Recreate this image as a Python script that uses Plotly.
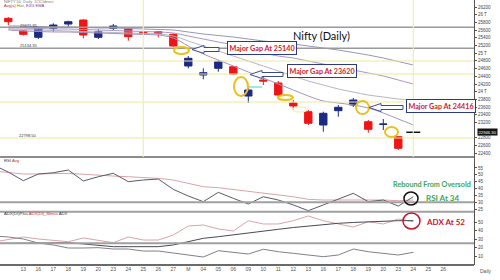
import plotly.graph_objects as go

# ---------------- data ----------------
dates_all = ["Feb 11", "Feb 12", "Feb 13", "Feb 16", "Feb 17", "Feb 18", "Feb 19", "Feb 20",
             "Feb 23", "Feb 24", "Feb 25", "Feb 26", "Feb 27", "Mar 02", "Mar 04", "Mar 05",
             "Mar 06", "Mar 09", "Mar 10", "Mar 11", "Mar 12", "Mar 13", "Mar 16", "Mar 17",
             "Mar 18", "Mar 19", "Mar 20", "Mar 23", "Mar 24", "Mar 25", "Mar 26"]
tick_dates = dates_all[2:]
tick_labels = ["13", "16", "17", "18", "19", "20", "23", "24", "25", "26", "27", "M", "04", "05",
               "06", "09", "10", "11", "12", "13", "16", "17", "18", "19", "20", "23", "24", "25", "26"]

candle_dates = dates_all[1:28]
open_ = [25906, 25577, 25413, 25647, 25758, 25862, 25413, 25647, 25629, 25543, 25558, 25491,
         24668, 24434, 24608, 24649, 23888, 24304, 24226, 23707, 23481, 23135, 23507, 23655,
         23221, 23150, 22831]
high = [25940, 25600, 25700, 25777, 25844, 25880, 25621, 25758, 25647, 25560, 25577, 25517,
        24927, 24608, 24823, 24668, 24122, 24382, 24278, 23784, 23525, 23481, 23655, 23836,
        23265, 23291, 22849]
low = [25732, 25460, 25369, 25558, 25688, 25387, 25369, 25603, 25325, 25480, 25413, 25169,
       24608, 24322, 24520, 24434, 23707, 24174, 23862, 23525, 23135, 22961, 23351, 23603,
       22935, 23005, 22486]
close = [25818, 25491, 25688, 25732, 25818, 25473, 25558, 25706, 25429, 25499, 25517, 25187,
         24868, 24494, 24779, 24460, 24044, 24278, 23914, 23629, 23179, 23439, 23595, 23784,
         23023, 23160, 22530]
last_date = ["Mar 24"]
last_price = [22946]

ma_dates = dates_all[1:29]
ema_a = [25706, 25706, 25694, 25681, 25681, 25668, 25655, 25655, 25642, 25629, 25616, 25603, 25551, 25499,
         25460, 25421, 25369, 25317, 25278, 25239, 25187, 25135, 25083, 25018, 24953, 24875, 24784, 24694]
ema_b = [25655, 25655, 25642, 25629, 25629, 25616, 25603, 25590, 25577, 25564, 25551, 25525, 25447, 25369,
         25291, 25213, 25109, 25005, 24927, 24875, 24797, 24719, 24642, 24564, 24486, 24408, 24304, 24200]
ema_c = [25629, 25616, 25603, 25590, 25577, 25564, 25551, 25538, 25525, 25512, 25499, 25447, 25317, 25187,
         25057, 24927, 24797, 24668, 24538, 24408, 24278, 24174, 24070, 23992, 23914, 23862, 23810, 23784]
ema_d = [25603, 25577, 25564, 25551, 25551, 25538, 25525, 25512, 25499, 25486, 25473, 25395, 25187, 24979,
         24823, 24668, 24512, 24356, 24200, 24044, 23888, 23758, 23707, 23655, 23577, 23447, 23291, 23135]

ind_dates = dates_all[0:29]
rsi = [57.2, 52.0, 45.7, 50.6, 51.5, 53.5, 45.5, 48.6, 51.1, 45.0, 46.2, 46.9, 39.4, 34.5, 30.4,
       37.2, 32.8, 28.7, 34.0, 31.6, 28.0, 23.8, 28.0, 32.1, 36.5, 30.4, 31.6, 27.2, 34.0]
rsi_avg = [52.8, 51.7, 50.6, 50.6, 51.1, 51.1, 50.4, 49.6, 49.1, 48.6, 48.2, 47.4, 46.2, 43.8, 41.3,
           40.6, 39.4, 37.7, 36.5, 35.3, 34.0, 32.1, 31.6, 31.6, 32.1, 31.6, 31.6, 31.1, 31.6]
di_plus = [33.8, 32.6, 30.2, 25.4, 23.1, 19.5, 19.5, 19.9, 18.3, 18.3, 15.9, 15.9, 13.6, 11.2, 8.8,
           16.3, 13.9, 12.4, 18.0, 15.1, 13.2, 11.2, 9.2, 11.2, 18.3, 15.1, 13.2, 11.2, 14.4]
di_minus = [26.6, 29.6, 32.6, 30.2, 28.2, 27.0, 31.4, 28.2, 25.8, 32.6, 29.0, 29.0, 34.9, 45.6, 46.8,
            42.1, 39.7, 51.9, 48.0, 48.0, 51.9, 57.5, 51.9, 48.0, 44.4, 50.7, 48.0, 53.9, 50.7]
adx = [24.9, 25.1, 24.9, 25.1, 25.4, 25.8, 24.3, 22.7, 21.1, 21.1, 21.1, 21.1, 23.1, 27.0, 31.0,
       32.9, 34.9, 37.7, 39.7, 41.7, 43.8, 45.6, 47.4, 48.8, 49.8, 50.7, 51.5, 51.9, 52.0]

price_ticks = [22400, 22600, 22800, 23200, 23400, 23600, 23800, 24000, 24200, 24400, 24600,
               24800, 25000, 25200, 25400, 25600, 25800, 26000, 26200]
price_tick_text = ["22400", "22600", "22800", "23200", "23400", "23600", "23800", "24 T", "24200",
                   "24400", "24600", "24800", "25 T", "25200", "25400", "25600", "25800", "26 T", "26200"]
rsi_ticks = [25, 30, 35, 40, 45, 50, 55]
adx_ticks = [10, 20, 30, 40, 50]

range_levels = [25673, 25127]
range_level_text = ["25671.35", "25134.35"]
gap_levels = [24797, 24460, 23733, 22797]

# ---------------- figure ----------------
W, H = 500, 280
def px(x):
    return x / W
def py(y):
    return 1 - y / H

fig = go.Figure()

for name, vals, col in [("EMA A", ema_a, "#9497b6"), ("EMA B", ema_b, "#ab96c8"),
                        ("EMA C", ema_c, "#b6b6c0"), ("EMA D", ema_d, "#a493bd")]:
    fig.add_trace(go.Scatter(x=ma_dates, y=vals, mode="lines", line=dict(color=col, width=1, shape="spline"),
                             xaxis="x", yaxis="y", showlegend=False, hoverinfo="skip"))

fig.add_trace(go.Candlestick(x=candle_dates, open=open_, high=high, low=low, close=close,
                             increasing=dict(line=dict(color="#1c2a86", width=1), fillcolor="#1c2a86"),
                             decreasing=dict(line=dict(color="#f01515", width=1), fillcolor="#f01515"),
                             whiskerwidth=0, xaxis="x", yaxis="y", showlegend=False))
fig.add_trace(go.Scatter(x=last_date, y=last_price, mode="markers",
                         marker=dict(symbol="line-ew", size=10, line=dict(color="#111", width=1.5)),
                         xaxis="x", yaxis="y", showlegend=False))

fig.add_trace(go.Scatter(x=ind_dates, y=rsi_avg, mode="lines", line=dict(color="#d9a3a8", width=1),
                         xaxis="x", yaxis="y2", showlegend=False))
fig.add_trace(go.Scatter(x=ind_dates, y=rsi, mode="lines", line=dict(color="#5a5a66", width=1),
                         xaxis="x", yaxis="y2", showlegend=False))

fig.add_trace(go.Scatter(x=ind_dates, y=di_minus, mode="lines", line=dict(color="#d9a3a8", width=1),
                         xaxis="x", yaxis="y3", showlegend=False))
fig.add_trace(go.Scatter(x=ind_dates, y=di_plus, mode="lines", line=dict(color="#808088", width=1),
                         xaxis="x", yaxis="y3", showlegend=False))
fig.add_trace(go.Scatter(x=ind_dates, y=adx, mode="lines", line=dict(color="#4a4a55", width=1),
                         xaxis="x", yaxis="y3", showlegend=False))

x_lo = 0.4467
x_hi = 32.047

axis_common = dict(side="right", anchor="x", showgrid=False, zeroline=False, showline=True,
                   linecolor="#555", linewidth=1, ticks="outside", ticklen=2, tickcolor="#555",
                   tickfont=dict(size=4.5, color="#444", family="Liberation Sans"))

fig.update_layout(
    width=W, height=H, margin=dict(l=0, r=0, t=0, b=0), autosize=False,
    paper_bgcolor="white", plot_bgcolor="white", showlegend=False,
    xaxis=dict(type="category", categoryorder="array", categoryarray=dates_all,
               range=[x_lo, x_hi], domain=[0, 474 / W], anchor="y3",
               tickvals=tick_dates, ticktext=tick_labels, tickangle=0,
               tickfont=dict(size=5, color="#555", family="Liberation Sans"),
               showgrid=False, zeroline=False, showline=False, ticks="",
               rangeslider=dict(visible=False)),
    yaxis=dict(domain=[py(157), 1.0], range=[22304, 26382], tickvals=price_ticks,
               ticktext=price_tick_text, **axis_common),
    yaxis2=dict(domain=[py(211.7), py(157)], range=[23.07, 63.0], tickvals=rsi_ticks, **axis_common),
    yaxis3=dict(domain=[py(265), py(211.7)], range=[-0.65, 62.57], tickvals=adx_ticks, **axis_common),
)

shapes = []
for yy, col, wd in [(157, "#8c8c8c", 2), (211.7, "#a0a0a0", 2), (265, "#6a6a6a", 2)]:
    shapes.append(dict(type="line", xref="paper", yref="paper", x0=0, x1=474 / W, y0=py(yy), y1=py(yy),
                       line=dict(color=col, width=wd)))
shapes.append(dict(type="line", xref="x domain", yref="y2", x0=0, x1=1, y0=30, y1=30,
                   line=dict(color="#a0a0a0", width=2)))
shapes.append(dict(type="line", xref="x domain", yref="y3", x0=0, x1=1, y0=25, y1=25,
                   line=dict(color="#a0a0a0", width=2)))
for lv in range_levels:
    shapes.append(dict(type="line", xref="x domain", yref="y", x0=0, x1=1, y0=lv, y1=lv,
                       line=dict(color="#9a9a9a", width=1.5)))
for lv in gap_levels:
    shapes.append(dict(type="line", xref="x domain", yref="y", x0=0, x1=1, y0=lv, y1=lv,
                       line=dict(color="#eeeaa0", width=1.2)))
for d in ["Feb 25", "Mar 24"]:
    xi = dates_all.index(d)
    shapes.append(dict(type="line", xref="x", yref="y domain", x0=xi, x1=xi, y0=0, y1=1,
                       line=dict(color="#eef0a8", width=1.2)))
shapes.append(dict(type="line", xref="paper", yref="paper", x0=px(248), x1=px(262), y0=py(87), y1=py(87),
                   line=dict(color="#7fe0ea", width=1.5)))

for (x0, x1, y0, y1, col, wd) in [(174, 189, 47, 54, "#e8c21a", 2), (234, 248, 77, 96, "#e8c21a", 2),
                                  (278, 293, 95, 100, "#e8c21a", 2), (293, 307, 107, 112, "#f4ecb0", 1.2),
                                  (356, 369, 101, 114, "#e8c21a", 2), (385, 398, 127, 137, "#e8c21a", 2),
                                  (404, 418, 192, 205, "#111111", 1.5), (403, 420, 213, 229, "#c8142a", 1.5)]:
    shapes.append(dict(type="circle", xref="paper", yref="paper", x0=px(x0), x1=px(x1), y0=py(y0), y1=py(y1),
                       line=dict(color=col, width=wd)))

def block_arrow(tip_x, tail_x, cy, head_len, head_h, shaft_h):
    hb = tip_x + head_len
    pts = [(tip_x, cy), (hb, cy - head_h), (hb, cy - shaft_h), (tail_x, cy - shaft_h),
           (tail_x, cy + shaft_h), (hb, cy + shaft_h), (hb, cy + head_h)]
    return "M " + " L ".join(f"{px(a):.5f},{py(b):.5f}" for a, b in pts) + " Z"

for tip, tail, cy in [(192, 219, 49.5), (250, 283, 74.5), (369, 403, 107.5)]:
    shapes.append(dict(type="path", xref="paper", yref="paper", path=block_arrow(tip, tail, cy, 12, 4, 2),
                       line=dict(color="#3a4a8a", width=1), fillcolor="white"))

fig.update_layout(shapes=shapes)

ann = []
def add_text(x, y, text, size, color, bold=False, xanchor="center", family="Lato", **kw):
    t = f"<b>{text}</b>" if bold else text
    ann.append(dict(x=px(x), y=py(y), xref="paper", yref="paper", text=t, showarrow=False,
                    xanchor=xanchor, yanchor="middle", font=dict(size=size, color=color, family=family), **kw))

add_text(321, 35, "Nifty (Daily)", 11, "#111")
for (cx, cy, t) in [(261.5, 48, "Major Gap At 25140"), (321.5, 70.5, "Major Gap At 23620"),
                    (440.5, 105.5, "Major Gap At 24416")]:
    add_text(cx, cy, t, 7.2, "#d0202a", bold=True, bordercolor="#2b3a85", borderwidth=1, borderpad=1.5,
             bgcolor="white")
add_text(431.5, 184, "Rebound From Oversold", 7.2, "#3aa655", bold=True)
add_text(424, 197.5, "RSI At 34", 8, "#3aa655", bold=True, xanchor="left")
add_text(424, 222, "ADX At 52", 8, "#c8142a", bold=True, xanchor="left")
add_text(478, 270.5, "Daily", 5, "#555", xanchor="left", family="Liberation Sans")
add_text(477, 132.3, "22946.30", 4.2, "white", xanchor="left", family="Liberation Sans", bgcolor="#111",
         borderpad=0.5)
for lv_y, t in [(25, range_level_text[0]), (45.5, range_level_text[1])]:
    add_text(18, lv_y, t, 4, "#333", xanchor="left", family="Liberation Sans")
add_text(17, 135.5, "22798.50", 4, "#333", xanchor="left", family="Liberation Sans")
add_text(2, 1.3, "NIFTY 50  Daily  ICICIdirect", 4, "#777", xanchor="left", family="Liberation Sans")
add_text(2, 5.5, "<span style='color:#c03030'>Avg(a)</span> <span style='color:#3a9a3a'>Hist,</span> "
                 "<span style='color:#7a3a9a'>EXG EMA</span>", 4, "#333", xanchor="left", family="Liberation Sans")
add_text(2, 160.5, "RSI <span style='color:#c03030'>Avg</span>", 4.2, "#333", xanchor="left",
         family="Liberation Sans")
add_text(2, 213.3, "ADX(DI)Plus <span style='color:#c03030'>ADX(DI)_Minus</span> ADX", 4.2, "#333",
         xanchor="left", family="Liberation Sans")

fig.update_layout(annotations=ann)
fig.write_html("out.html")
